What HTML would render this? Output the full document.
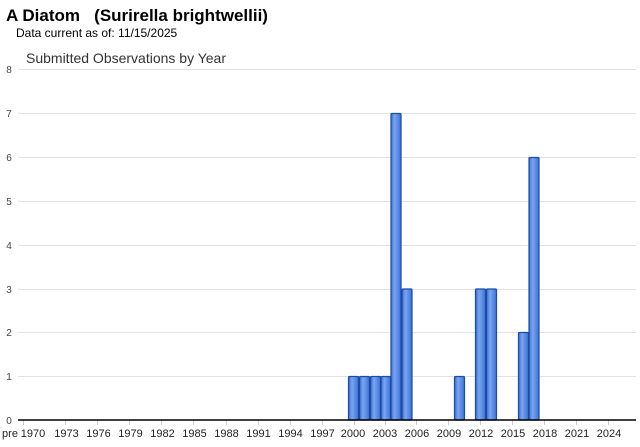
<!DOCTYPE html>
<html><head><meta charset="utf-8"><style>
body{margin:0;background:#fff;width:640px;height:442px;overflow:hidden;font-family:"Liberation Sans",Arial,sans-serif}
</style></head><body>
<svg width="640" height="442" xmlns="http://www.w3.org/2000/svg" font-family="Liberation Sans, Arial, sans-serif">
<defs><linearGradient id="g" x1="0" x2="1" y1="0" y2="0">
<stop offset="0" stop-color="#3a6fd0"/><stop offset="0.35" stop-color="#7aa6f0"/><stop offset="1" stop-color="#3d72d6"/></linearGradient></defs>
<text x="6" y="21" font-size="17" font-weight="bold" fill="#000">A Diatom&#160;&#160;&#160;(Surirella brightwellii)</text>
<text x="16" y="37" font-size="12" fill="#000">Data current as of: 11/15/2025</text>
<text x="26" y="63" font-size="14" fill="#333">Submitted Observations by Year</text>
<g stroke="#e2e2e2" stroke-width="1">
<line x1="18" x2="636" y1="69.5" y2="69.5"/><line x1="18" x2="636" y1="113.5" y2="113.5"/>
<line x1="18" x2="636" y1="157.5" y2="157.5"/><line x1="18" x2="636" y1="201.5" y2="201.5"/>
<line x1="18" x2="636" y1="245.5" y2="245.5"/><line x1="18" x2="636" y1="289.5" y2="289.5"/>
<line x1="18" x2="636" y1="332.5" y2="332.5"/><line x1="18" x2="636" y1="376.5" y2="376.5"/>
</g>
<g font-size="10" fill="#444" text-anchor="middle">
<text x="9" y="73">8</text><text x="9" y="117">7</text><text x="9" y="161">6</text><text x="9" y="205">5</text>
<text x="9" y="249">4</text><text x="9" y="293">3</text><text x="9" y="336">2</text><text x="9" y="380">1</text><text x="9" y="424">0</text>
</g>
<g stroke="#ccc"><line x1="23.5" x2="23.5" y1="420" y2="425"/>
<line x1="65.5" x2="65.5" y1="420" y2="425"/><line x1="97.5" x2="97.5" y1="420" y2="425"/><line x1="129.5" x2="129.5" y1="420" y2="425"/><line x1="161.5" x2="161.5" y1="420" y2="425"/><line x1="193.5" x2="193.5" y1="420" y2="425"/><line x1="226.5" x2="226.5" y1="420" y2="425"/><line x1="258.5" x2="258.5" y1="420" y2="425"/><line x1="290.5" x2="290.5" y1="420" y2="425"/><line x1="322.5" x2="322.5" y1="420" y2="425"/><line x1="354.5" x2="354.5" y1="420" y2="425"/><line x1="385.5" x2="385.5" y1="420" y2="425"/><line x1="416.5" x2="416.5" y1="420" y2="425"/><line x1="448.5" x2="448.5" y1="420" y2="425"/><line x1="480.5" x2="480.5" y1="420" y2="425"/><line x1="512.5" x2="512.5" y1="420" y2="425"/><line x1="544.5" x2="544.5" y1="420" y2="425"/><line x1="576.5" x2="576.5" y1="420" y2="425"/><line x1="608.5" x2="608.5" y1="420" y2="425"/></g>
<g fill="url(#g)" stroke="#1c4aa6" stroke-width="1.2">
<rect x="348.5" y="376.5" width="10" height="43.5" rx="1"/>
<rect x="359.5" y="376.5" width="10" height="43.5" rx="1"/>
<rect x="370.5" y="376.5" width="10" height="43.5" rx="1"/>
<rect x="381" y="376.5" width="9.5" height="43.5" rx="1"/>
<rect x="391" y="113.5" width="10" height="306.5" rx="1"/>
<rect x="402" y="289" width="10" height="131" rx="1"/>
<rect x="454.5" y="376.5" width="10" height="43.5" rx="1"/>
<rect x="475.5" y="289" width="10" height="131" rx="1"/>
<rect x="486.5" y="289" width="10" height="131" rx="1"/>
<rect x="518.5" y="332.5" width="10" height="87.5" rx="1"/>
<rect x="529" y="157.5" width="10" height="262.5" rx="1"/>
</g>
<line x1="18" x2="636" y1="420" y2="420" stroke="#000" stroke-width="1.5"/>
<g font-size="11" fill="#222" text-anchor="middle">
<text x="10" y="437">pre</text><text x="33" y="437">1970</text>
<text x="66.5" y="437">1973</text><text x="98.5" y="437">1976</text><text x="130.5" y="437">1979</text><text x="162.5" y="437">1982</text><text x="194.5" y="437">1985</text><text x="226.5" y="437">1988</text><text x="258.5" y="437">1991</text><text x="290.5" y="437">1994</text><text x="322.5" y="437">1997</text><text x="353" y="437">2000</text><text x="385" y="437">2003</text><text x="417" y="437">2006</text><text x="449" y="437">2009</text><text x="481" y="437">2012</text><text x="513" y="437">2015</text><text x="545" y="437">2018</text><text x="577" y="437">2021</text><text x="609" y="437">2024</text>
</g>
</svg>
</body></html>
